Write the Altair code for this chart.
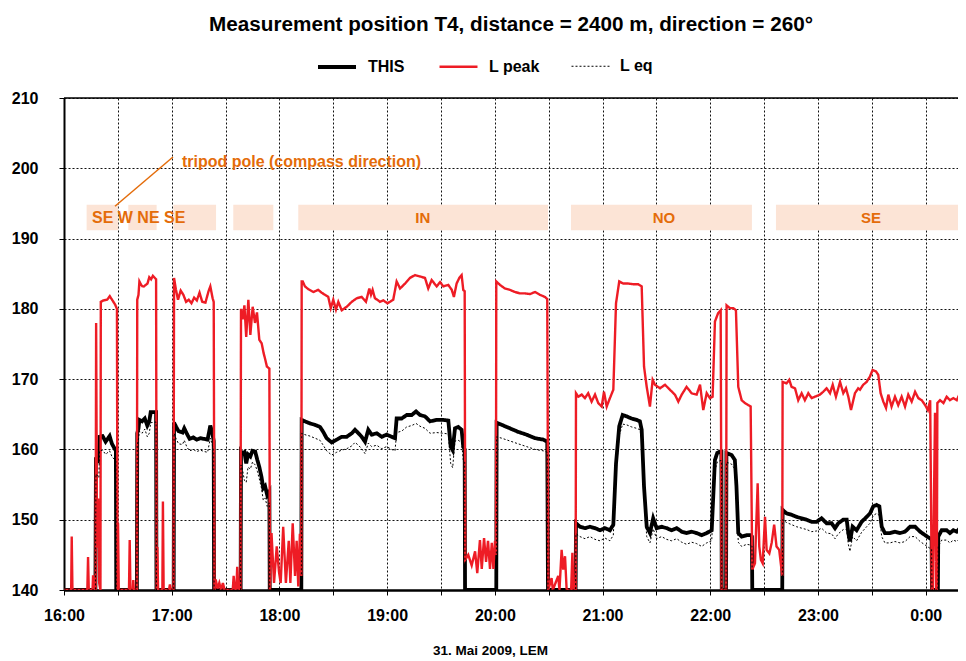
import altair as alt
import pandas as pd

# time = minutes after 16:00 on 31 May 2009, value = level in dB
THIS = [
    (0, 140), (17.5, 140), (17.8, 158.5), (19.4, 158.3), (19.8, 161.8), (21.5, 161.9), (23.2, 161.1),
    (25.4, 161.9), (26.7, 160.8), (28.0, 160.2), (28.9, 159.8), (29.1, 140),
    (40.6, 140), (40.8, 162.3), (41.5, 163.0), (42.0, 164.2), (43.5, 164.0), (45, 164.4), (46.4, 163.4),
    (47.5, 164.0), (48.3, 165.3), (51.3, 165.3), (51.5, 140),
    (61.1, 140), (61.3, 163.8), (62.5, 163.2), (63.8, 162.6), (66, 162.4), (67, 163.0), (68.5, 162.2),
    (70, 161.5), (72, 161.7), (74, 161.4), (76, 161.6), (78, 161.5), (80, 161.4), (81.5, 163.4),
    (82.5, 162.5), (83.4, 161.2), (83.6, 140),
    (98.4, 140), (98.6, 159.7), (99.5, 159.4), (100.5, 159.6), (101.5, 158.0), (102.5, 159.3),
    (103.8, 159.0), (105, 159.8), (106.5, 159.7), (107.7, 158.5), (108.8, 157.5), (110, 156.1),
    (111, 154.5), (112, 154.8), (113.2, 153.5), (114.4, 154.0), (114.6, 140),
    (132.2, 140), (132.4, 164.2), (134.2, 164.0), (137.0, 163.7), (139.8, 163.5), (142.6, 163.2),
    (144.4, 162.5), (146.3, 161.6), (149.1, 161.0), (151.9, 161.4), (154.7, 161.8), (157.5, 161.8),
    (160.3, 162.3), (162.1, 162.8), (164.0, 162.3), (165.8, 161.8), (167.7, 161.1), (169.5, 162.8),
    (171.4, 162.1), (174.2, 162.3), (177.0, 161.8), (179.7, 162.1), (182.5, 161.8), (184.4, 161.6),
    (185.3, 164.4), (188.1, 164.4), (190.9, 164.9), (193.7, 164.9), (196.1, 165.4), (198.3, 164.9),
    (201.1, 164.7), (203.9, 164.0), (207.6, 164.2), (211.3, 164.2), (214.1, 164.1), (215.4, 160.4),
    (216.5, 159.9), (217.8, 163.0), (219.6, 163.2), (221.5, 162.8), (222.4, 160.4), (223.2, 160.0),
    (223.4, 140),
    (240.8, 140), (241.0, 163.8), (243.8, 163.5), (248.4, 163.0), (253.0, 162.5), (257.7, 162.1),
    (262.4, 161.6), (267.0, 161.4), (269.2, 161.1), (269.6, 140),
    (285.0, 140), (285.2, 149.5), (287.4, 149.0), (290.2, 148.8), (293.0, 149.0), (295.8, 148.8),
    (298.6, 148.5), (301.3, 148.8), (304.1, 148.5), (306.0, 149.3), (307.5, 158.0), (309.3, 163.3),
    (311.2, 164.9), (313.4, 164.7), (316.2, 164.4), (319.0, 164.2), (320.8, 164.0), (321.8, 162.8),
    (323.1, 154.7), (324.6, 149.0), (326.4, 148.1), (328.2, 150.2), (330.1, 148.8), (332.9, 149.0),
    (335.7, 148.8), (338.5, 148.5), (341.3, 148.8), (344.1, 148.3), (346.8, 148.1), (349.6, 148.3),
    (352.4, 148.1), (355.2, 147.8), (358.0, 148.1), (360.8, 148.5), (362.6, 158.5), (363.9, 159.5),
    (365.4, 159.7), (366.2, 159.7), (366.4, 140), (368.8, 140), (369.0, 159.5), (371.9, 159.2),
    (373.7, 158.5), (374.6, 154.7), (375.6, 148.1), (377.5, 147.6), (380.3, 147.8), (382.5, 147.8),
    (383.2, 147.6), (383.4, 140),
    (400.1, 140), (400.3, 151.4), (402.5, 150.9), (405.3, 150.7), (408.1, 150.4), (410.9, 150.2),
    (413.7, 150.0), (416.5, 149.7), (419.2, 149.7), (422.0, 150.2), (424.8, 149.5), (427.6, 149.5),
    (429.5, 148.8), (431.3, 149.5), (434.1, 150.0), (436.0, 150.0), (436.9, 148.1), (437.8, 146.9),
    (439.3, 149.0), (441.5, 148.5), (444.3, 149.7), (447.1, 150.4), (449.0, 150.9), (450.8, 151.9),
    (452.7, 152.1), (454.2, 151.9), (455.5, 149.0), (457.3, 148.1), (460.1, 148.1), (462.9, 148.3),
    (465.7, 148.1), (468.5, 148.3), (471.3, 149.0), (474.1, 149.0), (476.9, 148.3), (479.7, 147.8),
    (482.0, 147.4), (483.3, 147.2), (483.5, 140), (486.8, 140), (487.0, 147.6), (488.9, 148.5),
    (491.7, 148.5), (493.5, 148.1), (495.4, 148.5), (497.3, 148.3), (499.1, 148.8), (500.9, 148.8),
    (501.2, 140), (502.4, 140),
]

L_PEAK = [
    (0, 140), (4.0, 140), (4.3, 147.6), (4.7, 140), (13.0, 140), (13.4, 144.7), (13.8, 140),
    (15.9, 140), (16.2, 142.1), (16.6, 140), (17.6, 140), (17.9, 178.0), (18.4, 146), (19.0, 153),
    (19.6, 141), (20.3, 140), (20.5, 181.0), (22.0, 181.2), (24.0, 181.3), (25.5, 181.8),
    (27.0, 181.2), (28.5, 180.6), (29.5, 180.0), (29.8, 140), (30.1, 149.5), (30.5, 140),
    (36.2, 140), (36.6, 147.1), (37.0, 140), (38.3, 140), (38.6, 141.4), (38.9, 140), (40.6, 140),
    (40.8, 181.3), (41.5, 182.0), (42.0, 183.9), (43, 183.4), (44, 183.1), (45, 183.3), (46.5, 183.6),
    (47.5, 184.5), (48.5, 184.2), (49.5, 184.7), (51.3, 184.2), (51.6, 140), (52.0, 146.1),
    (52.4, 140), (54.8, 140), (55.1, 152.6), (55.5, 140), (58.5, 140), (59.0, 140.8), (59.5, 140),
    (61.0, 140), (61.3, 184.4), (62.3, 182.8), (63.5, 181.3), (65.0, 182.6), (66.5, 182.0),
    (68.0, 181.0), (69.5, 181.3), (71.0, 180.8), (72.5, 181.6), (74, 181.2), (75.5, 182.3),
    (77, 181.0), (78.8, 180.9), (80.5, 182.5), (81.5, 183.2), (82.8, 181.5), (83.4, 181.0),
    (83.8, 140), (84.5, 141.5), (85.5, 140.2), (86.5, 141.0), (87.5, 140), (88.5, 141.0), (89.5, 140),
    (94.0, 140), (94.5, 142.0), (95.2, 140), (96.0, 140), (96.5, 143.3), (97.2, 140),
    (98.3, 140), (98.6, 180.0), (99.5, 178.5), (100.5, 180.5), (101.5, 176.0), (102.7, 181.3),
    (103.8, 176.3), (105.1, 180.3), (106.4, 178.0), (107.5, 179.5), (108.8, 175.6), (110.1, 175.1),
    (111.2, 173.7), (112.2, 172.7), (113.0, 171.8), (114.4, 171.5), (114.7, 140), (115.6, 148.1),
    (117.0, 141), (118.5, 146.2), (119.8, 142.5), (120.7, 141.0), (122.1, 149), (123.6, 141),
    (125.2, 147), (126.1, 141), (127.4, 149.5), (128.7, 142), (129.6, 147), (130.5, 140.5),
    (131.4, 148), (132.2, 142),
    (132.4, 183.9), (133.0, 183.9), (134.2, 183.2), (136.1, 182.8), (138.9, 182.4), (141.6, 182.7),
    (143.5, 182.3), (145.4, 182.0), (147.2, 181.7), (148.6, 180.1), (150.0, 181.3), (151.5, 179.9),
    (152.8, 181.0), (154.7, 179.8), (157.5, 180.3), (160.3, 181.0), (163.0, 181.5), (165.8, 181.7),
    (168.2, 181.0), (170.1, 182.9), (171.0, 182.0), (171.9, 182.7), (173.2, 181.5), (174.5, 181.3),
    (176.0, 181.0), (177.9, 181.2), (180.1, 180.8), (181.6, 181.0), (183.4, 181.3), (185.3, 183.9),
    (187.2, 182.9), (190.0, 183.6), (192.7, 184.4), (195.5, 184.8), (198.3, 184.6), (201.1, 184.4),
    (202.9, 182.9), (204.8, 184.1), (207.6, 183.2), (209.5, 183.8), (211.3, 183.2), (214.1, 183.4),
    (216.0, 182.7), (217.2, 181.7), (218.7, 183.6), (220.2, 184.4), (221.5, 184.8), (222.4, 182.7),
    (223.2, 182.5), (223.5, 144.3), (225.2, 145.0), (227.1, 143.5), (229.0, 145.5), (230.2, 142.4),
    (231.7, 147.1), (232.7, 143.0), (234.0, 147.4), (235.1, 144.0), (236.2, 147.0), (237.3, 143.0),
    (238.3, 146.7), (239.2, 143.0), (240.1, 147.0), (240.6, 145),
    (240.8, 183.9), (242.9, 183.4), (245.6, 182.9), (248.4, 182.7), (251.2, 182.4), (254.0, 182.2),
    (256.8, 182.2), (259.6, 182.1), (262.4, 182.4), (265.1, 182.0), (267.9, 181.7), (269.2, 181.4),
    (269.8, 140), (271.6, 141.7), (272.3, 140), (275.3, 142), (276.0, 140), (277.2, 145.7),
    (278.1, 142.9), (279.1, 144.8), (280.0, 140), (282.5, 140), (283.2, 145.3), (283.8, 140),
    (285.0, 140),
    (285.2, 168.0), (286.5, 167.5), (288.4, 167.8), (290.2, 167.3), (292.0, 168.0), (293.9, 166.8),
    (295.8, 167.8), (297.6, 166.6), (299.5, 166.1), (300.8, 168.2), (302.3, 166.1), (304.1, 167.3),
    (306.0, 168.5), (307.5, 180.8), (309.3, 183.9), (311.5, 183.6), (314.3, 183.6), (317.1, 183.5),
    (319.9, 183.5), (321.8, 183.2), (323.1, 171.8), (324.6, 168.9), (326.4, 166.1), (327.9, 169.9),
    (329.2, 169.2), (332.0, 168.7), (334.8, 169.2), (337.5, 168.5), (340.3, 167.8), (342.2, 166.8),
    (344.1, 167.8), (346.8, 168.9), (349.6, 168.0), (352.4, 167.8), (354.3, 169.2), (356.1, 165.6),
    (358.0, 168.0), (359.8, 167.3), (361.3, 167.5), (362.6, 178.2), (364.4, 179.4), (365.8, 179.8),
    (366.3, 140), (368.8, 140), (369.1, 180.5), (371.0, 180.1), (372.8, 180.1), (374.3, 179.8),
    (375.6, 168.9), (377.5, 167.0), (379.3, 166.6), (381.2, 166.3), (382.5, 166.1), (383.4, 142.9),
    (384.9, 143.8), (386.4, 155.2), (387.3, 146.2), (388.2, 144.3), (389.2, 143.8), (390.5, 150.4),
    (391.4, 145.7), (392.9, 145.2), (394.2, 146.7), (395.6, 149.3), (396.9, 146.2), (398.4, 145.7),
    (399.5, 143.3), (400.1, 142),
    (400.3, 169.6), (402.5, 169.4), (404.0, 169.9), (405.3, 168.9), (407.2, 168.7), (409.0, 167.0),
    (410.9, 168.0), (412.7, 167.0), (414.6, 168.0), (416.5, 167.3), (418.3, 167.5), (421.1, 167.8),
    (422.9, 168.2), (424.8, 168.7), (426.7, 168.0), (428.2, 169.2), (430.0, 167.5), (432.3, 169.6),
    (434.1, 168.0), (435.6, 168.7), (436.9, 167.5), (438.4, 165.6), (440.6, 168.0), (442.4, 168.7),
    (443.4, 168.5), (445.2, 169.2), (447.1, 169.6), (449.0, 170.4), (450.4, 171.3), (452.3, 171.1),
    (453.6, 170.6), (454.9, 168.0), (456.4, 166.8), (457.9, 165.9), (459.2, 167.8), (461.0, 166.1),
    (462.9, 167.5), (464.7, 166.3), (466.6, 167.5), (468.5, 166.1), (470.3, 167.8), (472.2, 166.8),
    (474.1, 168.2), (475.9, 167.3), (477.8, 167.0), (479.7, 166.3), (481.2, 165.6), (482.5, 167.0),
    (483.4, 140), (484.0, 140), (485.2, 165.2), (485.8, 140), (486.2, 140), (486.5, 166.6),
    (488.0, 167.0), (489.9, 166.6), (491.7, 167.5), (493.5, 167.0), (495.4, 167.3), (497.3, 167.0),
    (499.1, 168.0), (500.9, 167.5), (502.4, 168.2),
]

L_EQ = [
    (0, 140), (17.5, 140), (17.8, 156.5), (19.4, 156.0), (19.8, 159.8), (21.5, 159.9), (23.2, 159.3),
    (25.4, 159.8), (26.7, 159.0), (28.0, 158.6), (28.9, 158.3), (29.1, 140),
    (40.6, 140), (40.8, 160.5), (41.5, 161.5), (42.0, 162.6), (43.5, 162.3), (45, 162.9), (46.4, 161.8),
    (47.5, 162.3), (48.3, 163.8), (51.3, 163.9), (51.5, 140),
    (61.1, 140), (61.3, 162.3), (62.5, 161.5), (63.8, 160.8), (66, 160.7), (67, 161.3), (68.5, 160.3),
    (70, 159.8), (72, 160.0), (74, 159.7), (76, 159.9), (78, 159.7), (80, 159.6), (81.5, 161.6),
    (82.5, 160.8), (83.4, 159.6), (83.6, 140),
    (98.4, 140), (98.6, 157.8), (99.5, 157.0), (100.5, 155.6), (101.5, 155.3), (102.5, 157.5),
    (103.8, 157.2), (105, 158.2), (106.5, 157.8), (107.7, 156.9), (108.8, 155.8), (110, 154.5),
    (111, 152.8), (112, 153.1), (113.2, 151.9), (114.4, 152.4), (114.6, 140),
    (132.2, 140), (132.4, 162.3), (134.2, 162.1), (137.0, 161.9), (139.8, 161.6), (142.6, 161.3),
    (144.4, 160.6), (146.3, 159.8), (149.1, 159.2), (151.9, 159.6), (154.7, 159.9), (157.5, 160.1),
    (160.3, 160.5), (162.1, 161.0), (164.0, 160.6), (165.8, 160.1), (167.7, 159.4), (169.5, 160.9),
    (171.4, 160.4), (174.2, 160.6), (177.0, 160.1), (179.7, 160.4), (182.5, 160.0), (184.4, 159.8),
    (185.3, 162.4), (188.1, 162.6), (190.9, 163.2), (193.7, 163.4), (196.1, 163.7), (198.3, 163.3),
    (201.1, 163.0), (203.9, 162.3), (207.6, 162.4), (211.3, 162.3), (214.1, 162.2), (215.4, 158.0),
    (216.5, 157.4), (217.8, 161.2), (219.6, 161.3), (221.5, 161.0), (222.4, 158.5), (223.2, 158.2),
    (223.4, 140),
    (240.8, 140), (241.0, 161.8), (243.8, 161.6), (248.4, 161.2), (253.0, 160.8), (257.7, 160.4),
    (262.4, 160.0), (267.0, 159.8), (269.2, 159.6), (269.6, 140),
    (285.0, 140), (285.2, 148.0), (287.4, 147.6), (290.2, 147.3), (293.0, 147.6), (295.8, 147.2),
    (298.6, 147.0), (301.3, 147.4), (304.1, 147.0), (306.0, 147.8), (307.5, 156.8), (309.3, 162.0),
    (311.2, 163.6), (313.4, 163.5), (316.2, 163.2), (319.0, 163.0), (320.8, 162.8), (321.8, 161.5),
    (323.1, 153.5), (324.6, 147.6), (326.4, 146.7), (328.2, 148.7), (330.1, 147.3), (332.9, 147.6),
    (335.7, 147.2), (338.5, 147.0), (341.3, 147.3), (344.1, 146.8), (346.8, 146.5), (349.6, 146.8),
    (352.4, 146.6), (355.2, 146.2), (358.0, 146.7), (360.8, 147.0), (362.6, 157.0), (363.9, 158.2),
    (365.4, 158.4), (366.2, 158.4), (366.4, 140), (368.8, 140), (369.0, 158.2), (371.9, 157.9),
    (373.7, 157.2), (374.6, 153.3), (375.6, 146.8), (377.5, 146.2), (380.3, 146.5), (382.5, 146.4),
    (383.2, 146.2), (383.4, 140),
    (400.1, 140), (400.3, 150.0), (402.5, 149.6), (405.3, 149.3), (408.1, 149.0), (410.9, 148.8),
    (413.7, 148.6), (416.5, 148.3), (419.2, 148.4), (422.0, 148.8), (424.8, 148.1), (427.6, 148.0),
    (429.5, 147.3), (431.3, 148.0), (434.1, 148.6), (436.0, 148.6), (436.9, 146.5), (437.8, 145.5),
    (439.3, 147.6), (441.5, 147.0), (444.3, 148.2), (447.1, 149.0), (449.0, 149.5), (450.8, 150.6),
    (452.7, 150.9), (454.2, 150.6), (455.5, 147.6), (457.3, 146.7), (460.1, 146.7), (462.9, 146.9),
    (465.7, 146.7), (468.5, 146.9), (471.3, 147.6), (474.1, 147.6), (476.9, 146.9), (479.7, 146.4),
    (482.0, 146.0), (483.3, 145.8), (483.5, 140), (486.8, 140), (487.0, 146.2), (488.9, 147.1),
    (491.7, 147.1), (493.5, 146.7), (495.4, 147.1), (497.3, 146.9), (499.1, 147.4), (500.9, 147.4),
    (501.2, 140), (502.4, 140),
]

SERIES = ["THIS", "L peak", "L eq"]

# tripod compass-direction periods (minutes after 16:00)
BOX_START = [12.6, 35.8, 60.9, 94.3, 130.5, 282.4, 396.6]
BOX_END = [30.2, 51.6, 84.7, 116.6, 269.6, 383.2, 502.4]
BOX_LOW, BOX_HIGH = 191.2, 194.8

DIR_LABELS = ["SE W NE SE", "IN", "NO", "SE"]
DIR_T = [15.6, 199.9, 334.2, 449.5]
DIR_V = [192.9, 192.9, 192.9, 192.9]

POINTER_T = [28.4, 60.7]
POINTER_V = [194.6, 201.6]
NOTE_TEXT = "tripod pole (compass direction)"
NOTE_T, NOTE_V = 65.7, 200.9

X_TICKS = list(range(0, 481, 30))
Y_TICKS = list(range(140, 211, 10))
X_MAX = 498

ORANGE = "#e46c0a"
FONT = "Liberation Sans"

rows = []
for name, pts in [("THIS", THIS), ("L peak", L_PEAK), ("L eq", L_EQ)]:
    for i, (t, v) in enumerate(pts):
        rows.append({"series": name, "t": t, "v": v, "i": i})
df = pd.DataFrame(rows)

boxes = pd.DataFrame({"t0": BOX_START, "t1": BOX_END, "v0": [BOX_LOW] * len(BOX_START),
                      "v1": [BOX_HIGH] * len(BOX_START)})
labels = pd.DataFrame({"label": DIR_LABELS, "t": DIR_T, "v": DIR_V})
pointer = pd.DataFrame({"t": POINTER_T, "v": POINTER_V})
note = pd.DataFrame({"label": [NOTE_TEXT], "t": [NOTE_T], "v": [NOTE_V]})

xscale = alt.Scale(domain=[0, X_MAX], nice=False, zero=False)
yscale = alt.Scale(domain=[140, 210], nice=False, zero=False)

label_expr = ("datum.value % 60 == 0 ? (floor(16 + datum.value / 60) % 24) + ':00' : ''")

x_axis = alt.Axis(values=X_TICKS, labelExpr=label_expr, grid=True, gridDash=[2, 2], gridColor="#111",
                  gridWidth=1, domainColor="black", domainWidth=2.5, tickColor="black", tickSize=5,
                  labelFont=FONT, labelFontSize=16, labelFontWeight="bold", labelColor="black",
                  labelPadding=12, labelFlush=False, labelOverlap=False,
                  title="31. Mai 2009, LEM", titleFont=FONT, titleFontSize=13.5, titleFontWeight="bold",
                  titleColor="black", titlePadding=20, titleX=426)
y_axis = alt.Axis(values=Y_TICKS, grid=True, gridDash=[2, 2], gridColor="#111", gridWidth=1,
                  domainColor="black", domainWidth=2, tickColor="black", tickSize=5,
                  labelFont=FONT, labelFontSize=16, labelFontWeight="bold", labelColor="black",
                  labelPadding=21, title=None)

legend = alt.Legend(title=None, orient="none", legendX=252, legendY=-52, direction="horizontal",
                    symbolType="stroke", symbolSize=1444, labelFont=FONT, labelFontSize=16,
                    labelFontWeight="bold", labelColor="black", labelOffset=10, columnPadding=29)

enc = dict(
    x=alt.X("t:Q", scale=xscale, axis=x_axis),
    y=alt.Y("v:Q", scale=yscale, axis=y_axis),
    color=alt.Color("series:N", scale=alt.Scale(domain=SERIES, range=["#000000", "#ee1c25", "#000000"]),
                    legend=legend),
    strokeDash=alt.StrokeDash("series:N", scale=alt.Scale(domain=SERIES, range=[[1, 0], [1, 0], [2, 2]]),
                              legend=legend),
    strokeWidth=alt.StrokeWidth("series:N", scale=alt.Scale(domain=SERIES, range=[3.8, 1.0, 2.2]),
                                legend=legend),
    order=alt.Order("i:Q"),
)

base = alt.Chart(df).mark_line(clip=True).encode(**enc)
lines = [base.transform_filter(alt.datum.series == s) for s in SERIES]

box_layer = alt.Chart(boxes).mark_rect(color="#fce4d6", clip=True).encode(
    x=alt.X("t0:Q", scale=xscale), x2="t1:Q", y=alt.Y("v0:Q", scale=yscale), y2="v1:Q")

top_rule = alt.Chart(pd.DataFrame({"v": [210]})).mark_rule(color="black", strokeWidth=1.5).encode(
    y=alt.Y("v:Q", scale=yscale))

pointer_layer = alt.Chart(pointer).mark_line(color=ORANGE, strokeWidth=1.5).encode(
    x=alt.X("t:Q", scale=xscale), y=alt.Y("v:Q", scale=yscale))

note_layer = alt.Chart(note).mark_text(color=ORANGE, font=FONT, fontSize=16, fontWeight="bold",
                                       align="left", baseline="middle").encode(
    x=alt.X("t:Q", scale=xscale), y=alt.Y("v:Q", scale=yscale), text="label:N")

dir_left = alt.Chart(labels.iloc[:1]).mark_text(color=ORANGE, font=FONT, fontSize=16, fontWeight="bold",
                                                align="left", baseline="middle").encode(
    x=alt.X("t:Q", scale=xscale), y=alt.Y("v:Q", scale=yscale), text="label:N")
dir_center = alt.Chart(labels.iloc[1:]).mark_text(color=ORANGE, font=FONT, fontSize=15, fontWeight="bold",
                                                  align="center", baseline="middle").encode(
    x=alt.X("t:Q", scale=xscale), y=alt.Y("v:Q", scale=yscale), text="label:N")

chart = alt.layer(box_layer, top_rule, *lines, pointer_layer, note_layer, dir_left, dir_center).properties(
    width=894, height=492,
    autosize=alt.AutoSizeParams(type="none"),
    padding={"left": 56, "top": 90, "right": 0, "bottom": 70},
    title=alt.TitleParams("Measurement position T4, distance = 2400 m, direction = 260°", font=FONT,
                          fontSize=20.7, fontWeight="bold", color="black", anchor="middle", offset=10),
).configure_view(stroke=None).configure(background="white")

chart.save("out.html", embed_options={"renderer": "svg", "actions": False})
